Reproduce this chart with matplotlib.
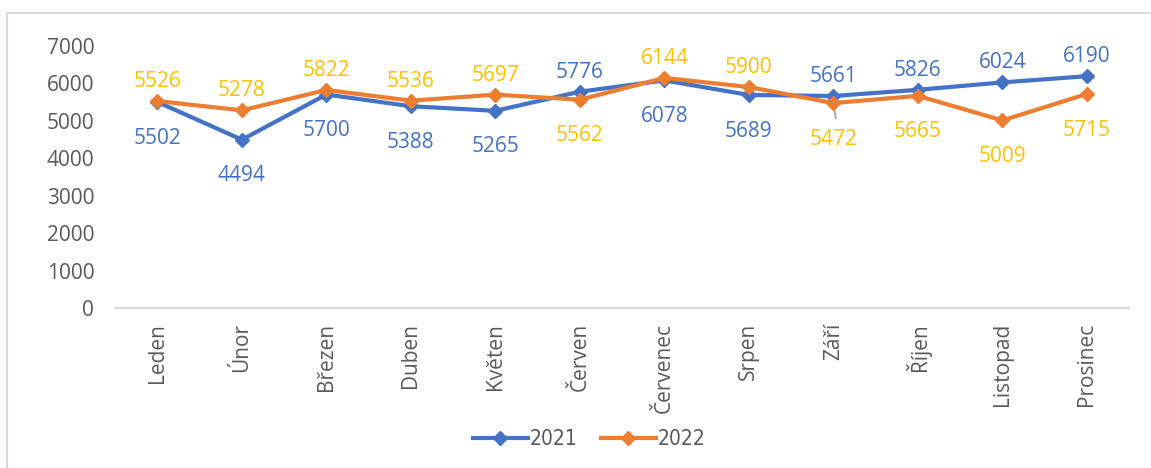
import matplotlib.pyplot as plt
from matplotlib.patches import Rectangle
from matplotlib.font_manager import FontProperties

months = ["Leden", "Únor", "Březen", "Duben", "Květen", "Červen",
          "Červenec", "Srpen", "Září", "Říjen", "Listopad", "Prosinec"]
values_2021 = [5502, 4494, 5700, 5388, 5265, 5776, 6078, 5689, 5661, 5826, 6024, 6190]
values_2022 = [5526, 5278, 5822, 5536, 5697, 5562, 6144, 5900, 5472, 5665, 5009, 5715]
# label placement per point: True = above the point
above_2021 = [False, False, False, False, False, True, False, False, True, True, True, True]
above_2022 = [True, True, True, True, True, False, True, True, False, False, False, False]
yticks = [0, 1000, 2000, 3000, 4000, 5000, 6000, 7000]

BLUE = "#4472C4"
ORANGE = "#ED7D31"
LABEL_ORANGE = "#FFC000"
TEXT_GREY = "#595959"
FONT = "Open Sans"

fig = plt.figure(figsize=(11.51, 4.68), dpi=100)
ax = fig.add_axes([0.1, 0.342, 0.881, 0.56])

# chart frame (only left/top edges visible in the crop)
fig.patches.append(Rectangle((7 / 1151, -0.1), 1.2, (468 - 13) / 468 + 0.1,
                             transform=fig.transFigure, fill=False,
                             edgecolor="#D9D9D9", linewidth=1.5))

x = range(len(months))
ax.plot(x, values_2021, color=BLUE, lw=3, marker="D", ms=7, label="2021", zorder=3)
ax.plot(x, values_2022, color=ORANGE, lw=3, marker="D", ms=7, label="2022", zorder=4)

def put_labels(values, above, colour):
    for i, (v, up) in enumerate(zip(values, above)):
        dy = 14 if up else -26
        ax.annotate(f"{v}", (i, v), xytext=(0, dy), textcoords="offset points",
                    ha="center", va="center", color=colour, fontsize=15,
                    family=FONT)

put_labels(values_2021, above_2021, BLUE)
put_labels(values_2022, above_2022, LABEL_ORANGE)

# leader line for the Září 2022 label
ax.annotate("", (8, values_2022[8]), xytext=(2, -13), textcoords="offset points",
            arrowprops=dict(arrowstyle="-", color="#A5A5A5", lw=1.3))

ax.set_xlim(-0.5, len(months) - 0.5)
ax.set_ylim(0, 7000)
ax.set_yticks(yticks)
ax.set_yticklabels([str(t) for t in yticks], family=FONT, fontsize=15, color=TEXT_GREY)
ax.set_xticks(list(x))
ax.set_xticklabels(months, rotation=90, family=FONT, fontsize=15, color=TEXT_GREY)
ax.tick_params(axis="both", length=0)
ax.tick_params(axis="y", pad=15)
ax.tick_params(axis="x", pad=11)

for side in ["top", "right", "left"]:
    ax.spines[side].set_visible(False)
ax.spines["bottom"].set_color("#D9D9D9")
ax.spines["bottom"].set_linewidth(1.5)

leg_font = FontProperties(family="DejaVu Sans", stretch="condensed", size=15)
leg = fig.legend(loc="center", bbox_to_anchor=(0.512, 0.062), ncol=2, frameon=False,
                 prop=leg_font, handlelength=2.65, columnspacing=1.1, handletextpad=0.1)
for t in leg.get_texts():
    t.set_color(TEXT_GREY)

fig.savefig("out.png", dpi=100)
